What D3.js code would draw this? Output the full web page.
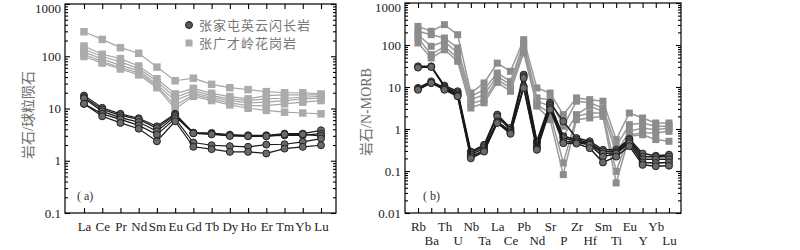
<!DOCTYPE html>
<html>
<head>
<meta charset="utf-8">
<script src="https://cdn.jsdelivr.net/npm/d3@7"></script>
<style>
  body { margin: 0; background: #fff; }
  svg { display: block; }
  text { font-family: "Liberation Serif", "DejaVu Serif", "Noto Sans CJK SC", serif; }
</style>
</head>
<body>
<div id="chart"></div>
<script>
// REE pattern (a) and spider diagram (b)

const reeLabels = ["La","Ce","Pr","Nd","Sm","Eu","Gd","Tb","Dy","Ho","Er","Tm","Yb","Lu"];
const spiderLabels = ["Rb","Ba","Th","U","Nb","Ta","La","Ce","Pb","Nd","Sr","P","Zr","Hf","Sm","Ti","Eu","Y","Yb","Lu"];
const seriesNames = ["张家屯英云闪长岩", "张广才岭花岗岩"];

// (a) chondrite normalised
const reeGranite = [
  [294,210,146,114,62,34,38,29,25,23,21,20,20,19],
  [157,109,90,65,37,19,24.3,19.5,16.9,15.3,17.7,18.2,18.2,18.2],
  [136,99,78,58,33,16.4,22,17.7,15.3,14.2,15.3,15.7,16.4,17.1],
  [121,88,67,53,29,14.2,19.8,16.4,14.2,12.8,13.2,14.2,15.3,15.7],
  [109,79,61,48,27,11.4,18.4,15.3,12.8,11.4,11.4,12.3,13.2,14.2],
  [99,74,57,44,25,9.9,17.1,14.2,11.7,10.1,9.2,8.5,8.2,7.9]
];
const reeTonalite = [
  [17.7,10.3,7.9,6.5,4.55,7.9,3.45,3.4,3.16,3.07,3.07,3.3,3.3,3.82],
  [16.4,9.6,7.4,6.2,4.2,7.6,3.4,3.3,3.07,2.98,2.98,3.07,3.07,3.3],
  [15.7,8.8,6.7,5.5,3.66,7.1,3.35,3.2,2.98,2.94,2.94,3.2,3.2,2.98],
  [12.3,7.9,6.2,4.75,3.16,6.4,2.23,1.98,1.9,1.85,2.04,2.07,2.3,2.66],
  [12.3,7.1,5.3,4.1,2.36,5.7,1.85,1.67,1.48,1.48,1.38,1.71,1.85,1.98]
];

// (b) N-MORB normalised
const spiderGranite = [
  [278,212,305,176,7.2,12.5,37,23.6,134,9.5,7.2,2.2,5.5,5.0,4.6,0.56,2.4,1.83,1.39,1.39],
  [212,176,147,85,6.0,8.6,21.5,13.6,112,5.5,5.0,1.16,4.6,4.2,3.16,0.39,1.27,1.39,1.16,1.16],
  [176,93,122,65,5.0,6.6,17.9,11.4,93,4.6,3.5,0.67,2.2,3.5,2.6,0.27,0.88,1.06,0.96,1.06],
  [147,59,93,49,4.0,5.0,15,9.5,77,3.8,2.4,0.155,2.0,2.4,2.4,0.098,0.73,0.8,0.8,0.88],
  [112,49,77,41,3.16,4.2,12.9,7.9,65,3.5,1.67,0.082,1.67,1.83,2.0,0.052,0.67,0.73,0.56,0.51]
];
const spiderTonalite = [
  [31,31,10.8,7.9,0.29,0.42,2.2,1.06,19.7,0.51,4.2,1.52,0.61,0.51,0.32,0.32,0.58,0.26,0.23,0.245],
  [29,30,10,7.2,0.27,0.39,2.0,0.96,17.9,0.46,3.8,0.67,0.56,0.46,0.29,0.29,0.56,0.22,0.215,0.22],
  [9.5,13.6,9.5,6.6,0.245,0.35,1.52,0.88,16.4,0.39,3.5,0.61,0.51,0.45,0.26,0.27,0.51,0.19,0.19,0.19],
  [9.0,12.5,9.0,6.2,0.22,0.31,1.44,0.8,10.4,0.35,3.16,0.51,0.48,0.42,0.22,0.26,0.46,0.16,0.155,0.16],
  [8.6,12.5,8.6,6.0,0.2,0.29,1.39,0.77,9.5,0.32,2.9,0.46,0.45,0.35,0.16,0.22,0.39,0.14,0.13,0.134]
];

const svg = d3.select("#chart").append("svg")
    .attr("width", 800)
    .attr("height", 250);

function drawPanel(p) {
    const x = d3.scaleLinear().domain([0, p.labels.length - 1]).range(p.xr);
    const y = d3.scaleLog().domain(p.yd).range([213, p.top]);
    const g = svg.append("g");
    const idx = d3.range(p.labels.length);
    const all = y.ticks();
    const major = all.filter(v => Math.abs(Math.log10(v) - Math.round(Math.log10(v))) < 1e-6);
    const minor = all.filter(v => !major.includes(v));

    // series
    const line = d3.line().x((d, i) => x(i)).y(d => y(d));
    p.granite.forEach(s => {
        g.append("path").attr("d", line(s)).attr("fill", "none")
            .attr("stroke", p.gLine).attr("stroke-width", p.lw);
        g.selectAll(null).data(s).enter().append("rect")
            .attr("x", (d, i) => x(i) - p.sq / 2)
            .attr("y", d => y(d) - p.sq / 2)
            .attr("width", p.sq).attr("height", p.sq)
            .attr("fill", p.gFill);
    });
    p.tonalite.forEach(s => {
        g.append("path").attr("d", line(s)).attr("fill", "none")
            .attr("stroke", "#1a1a1a").attr("stroke-width", p.lw);
        g.selectAll(null).data(s).enter().append("circle")
            .attr("cx", (d, i) => x(i)).attr("cy", d => y(d))
            .attr("r", 3.5).attr("fill", "#6a6a6a")
            .attr("stroke", "#222").attr("stroke-width", 1);
    });

    // frame
    g.append("rect").attr("x", p.frame[0]).attr("y", p.top)
        .attr("width", p.frame[1] - p.frame[0]).attr("height", 213 - p.top)
        .attr("fill", "none").attr("stroke", "#000").attr("stroke-width", 1.2);

    // y axes, ticks pointing inward
    const yl = g.append("g").attr("transform", `translate(${p.frame[0]},0)`)
        .call(d3.axisLeft(y).tickValues(major).tickSize(-5).tickPadding(4)
            .tickFormat(d => d3.format("~")(d)));
    g.append("g").attr("transform", `translate(${p.frame[0]},0)`)
        .call(d3.axisLeft(y).tickValues(minor).tickSize(-3).tickFormat(""));
    g.append("g").attr("transform", `translate(${p.frame[1]},0)`)
        .call(d3.axisRight(y).tickValues(major).tickSize(-5).tickFormat(""));
    g.append("g").attr("transform", `translate(${p.frame[1]},0)`)
        .call(d3.axisRight(y).tickValues(minor).tickSize(-3).tickFormat(""));

    // x axes
    const xb = g.append("g").attr("transform", "translate(0,213)")
        .call(d3.axisBottom(x).tickValues(idx).tickSize(-5).tickPadding(9)
            .tickFormat(i => p.labels[i]));
    g.append("g").attr("transform", `translate(0,${p.top})`)
        .call(d3.axisTop(x).tickValues(idx).tickSize(-5).tickFormat(""));

    g.selectAll(".domain").remove();
    g.selectAll(".tick line").attr("stroke", "#000").attr("stroke-width", 1.1);
    g.selectAll(".tick text").attr("font-size", 13).attr("fill", "#222")
        .attr("font-family", "Liberation Serif, serif");
    // keep the top label inside the picture
    yl.selectAll(".tick text").filter(d => d === p.yd[1]).attr("dy", "0.62em");
    if (p.twoRows) {
        xb.selectAll(".tick text").attr("dy", (i) => i % 2 ? "1.75em" : "0.71em");
    }

    // axis title
    g.append("text")
        .attr("transform", `translate(${p.titleX},${p.titleY}) rotate(-90)`)
        .attr("text-anchor", "middle")
        .attr("dominant-baseline", "middle")
        .attr("font-size", 14).attr("fill", "#6e6e6e")
        .text(p.title);

    g.append("text").attr("x", p.tagX).attr("y", 200)
        .attr("font-size", 12).attr("fill", "#333")
        .text(p.tag);
}

drawPanel({
    labels: reeLabels, granite: reeGranite, tonalite: reeTonalite,
    xr: [84, 321], frame: [65, 336], top: 4, yd: [0.1, 1000],
    gLine: "#a6a6a6", gFill: "#ababab", lw: 1.2, sq: 7.5,
    title: "岩石/球粒陨石", titleX: 30, titleY: 115, tag: "( a)", tagX: 77
});

drawPanel({
    labels: spiderLabels, granite: spiderGranite, tonalite: spiderTonalite,
    xr: [418, 669], frame: [405, 681], top: 3, yd: [0.01, 1000], twoRows: true,
    gLine: "#999", gFill: "#8c8c8c", lw: 1.5, sq: 7,
    title: "岩石/N-MORB", titleX: 368, titleY: 112, tag: "( b)", tagX: 423
});

// legend in panel (a)
const legend = svg.append("g");
legend.append("circle").attr("cx", 189).attr("cy", 25).attr("r", 3.5)
    .attr("fill", "#555").attr("stroke", "#222");
legend.append("rect").attr("x", 185.5).attr("y", 39.5).attr("width", 7).attr("height", 7)
    .attr("fill", "#ababab");
seriesNames.forEach((n, i) => {
    legend.append("text").attr("x", 199).attr("y", 30 + i * 18)
        .attr("font-size", 13).attr("letter-spacing", 1).attr("fill", "#777")
        .text(n);
});
</script>
</body>
</html>
